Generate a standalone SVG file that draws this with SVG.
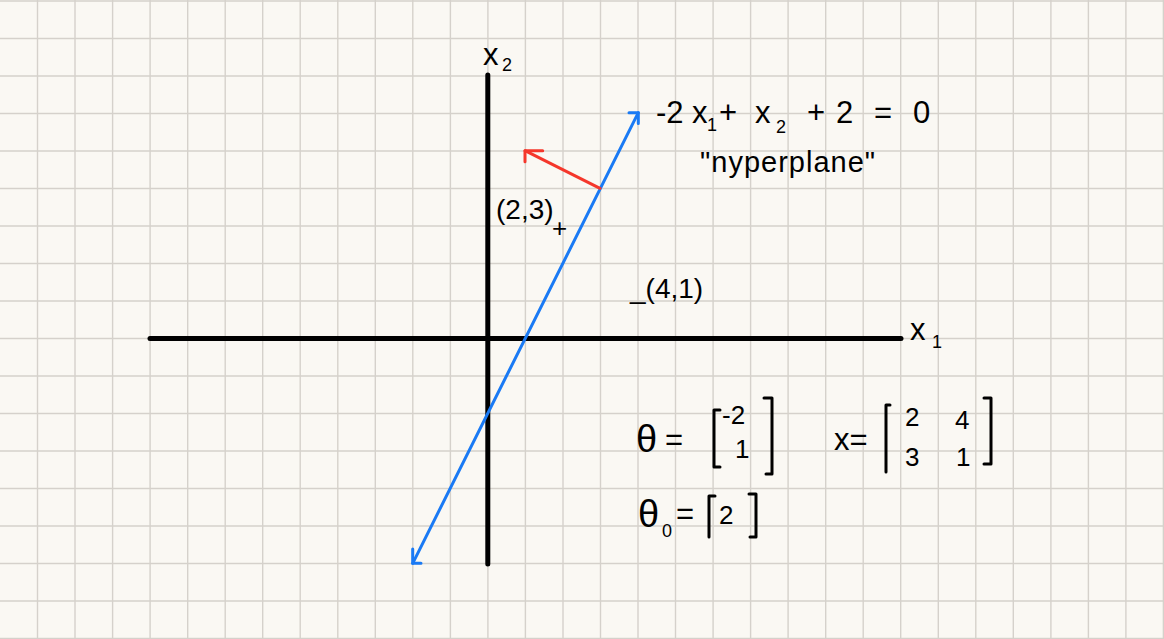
<svg xmlns="http://www.w3.org/2000/svg" width="1164" height="639" viewBox="0 0 1164 639">
<style>
.grid{stroke:#d5d1cb;stroke-width:1.4;fill:none}
.axis{stroke:#000;stroke-width:5;stroke-linecap:round;fill:none}
.blue{stroke:#1a7af4;stroke-width:3;stroke-linecap:round;stroke-linejoin:round;fill:none}
.red{stroke:#f5372b;stroke-width:3;stroke-linecap:round;stroke-linejoin:round;fill:none}
.br{stroke:#000;stroke-width:3;stroke-linecap:round;stroke-linejoin:round;fill:none}
text{font-family:"Liberation Sans","DejaVu Sans",sans-serif;fill:#000}
.t{font-size:31px}
.s{font-size:18px}
.m{font-size:26px}
.p{font-size:28px}
.h{font-size:29px;letter-spacing:1px}
.th{font-size:38px}
</style>
<rect width="1164" height="639" fill="#faf8f3"/>
<g id="grid">
<path class="grid" d="M37.5,0V639M75,0V639M112.6,0V639M150.1,0V639M187.7,0V639M225.2,0V639M262.7,0V639M300.2,0V639M337.8,0V639M375.3,0V639M412.8,0V639M450.4,0V639M487.9,0V639M525.4,0V639M563,0V639M600.5,0V639M638,0V639M675.5,0V639M713.1,0V639M750.6,0V639M788.1,0V639M825.7,0V639M863.2,0V639M900.7,0V639M938.3,0V639M975.8,0V639M1013.3,0V639M1050.9,0V639M1088.4,0V639M1125.9,0V639M1163.4,0V639"/>
<path class="grid" d="M0,1H1164M0,38.5H1164M0,76H1164M0,113.5H1164M0,151H1164M0,188.5H1164M0,226H1164M0,263.5H1164M0,301H1164M0,338.5H1164M0,376H1164M0,413.5H1164M0,451H1164M0,488.5H1164M0,526H1164M0,563.5H1164M0,601H1164M0,638.5H1164"/>
</g>
<g id="axes">
<line class="axis" x1="150" y1="338.5" x2="901" y2="338.5"/>
<line class="axis" x1="487.8" y1="75" x2="487.8" y2="564"/>
<text id="x2-label" class="t" x="483" y="65">x<tspan class="s" x="502" y="71">2</tspan></text>
<text id="x1-label" class="t" x="910" y="340">x<tspan class="s" x="932" y="348">1</tspan></text>
</g>
<g id="connectors">
<path id="hyperplane-line" class="blue" d="M412.7,563.3L638.3,112.7"/>
<path class="blue" d="M629,112.7H638.3V123.5"/>
<path class="blue" d="M421,563.3H412.7V549"/>
<path id="normal-vector" class="red" d="M600,188.3L525,150.7"/>
<path class="red" d="M542.7,150.7H525V161.7"/>
</g>
<g id="equation">
<text class="t" x="656" y="123">-2<tspan x="692">x</tspan><tspan class="s" x="707" y="131">1</tspan><tspan x="719" y="123">+</tspan><tspan x="755">x</tspan><tspan class="s" x="776" y="133">2</tspan><tspan x="807" y="123">+</tspan><tspan x="836">2</tspan><tspan x="874">=</tspan><tspan x="913">0</tspan></text>
<text class="h" x="700" y="172">"nyperplane"</text>
</g>
<g id="point-23">
<text class="p" x="496" y="219">(2,3)</text>
<text class="m" x="552" y="237">+</text>
</g>
<g id="point-41">
<text class="p" x="630" y="298">_(4,1)</text>
</g>
<g id="theta">
<text class="th" x="636" y="452">θ</text>
<text class="t" x="665" y="450">=</text>
<path class="br" d="M720,410H714V467H720"/>
<text class="m" x="722" y="424">-2</text>
<text class="m" x="735" y="458">1</text>
<path class="br" d="M764,398H772V474H766"/>
</g>
<g id="X-matrix">
<text class="t" x="834" y="450">x=</text>
<path class="br" d="M890,405H886V472"/>
<text class="m" x="905" y="426">2</text>
<text class="m" x="955" y="429">4</text>
<text class="m" x="905" y="466">3</text>
<text class="m" x="956" y="466">1</text>
<path class="br" d="M984,398H991V464H984"/>
</g>
<g id="theta0">
<text class="th" x="638" y="527">θ</text>
<text class="s" x="662" y="537">0</text>
<text class="t" x="676" y="524">=</text>
<path class="br" d="M715,496H709V537"/>
<text class="m" x="719" y="524">2</text>
<path class="br" d="M749,494H756V537H750"/>
</g>
</svg>
